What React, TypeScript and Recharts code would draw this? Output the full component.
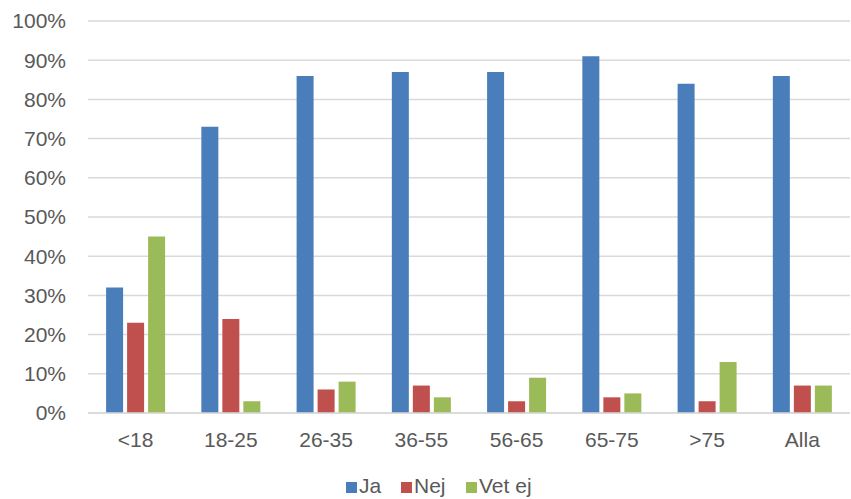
import React from 'react';
import { BarChart, Bar, XAxis, YAxis, CartesianGrid, Legend } from 'recharts';

const categories = ['<18', '18-25', '26-35', '36-55', '56-65', '65-75', '>75', 'Alla'];
const jaValues = [32, 73, 86, 87, 87, 91, 84, 86];
const nejValues = [23, 24, 6, 7, 3, 4, 3, 7];
const vetEjValues = [45, 3, 8, 4, 9, 5, 13, 7];
const yTicks = [0, 10, 20, 30, 40, 50, 60, 70, 80, 90, 100];

const seriesInfo = [
  { key: 'Ja', color: '#4a7ebb' },
  { key: 'Nej', color: '#c0504d' },
  { key: 'Vet ej', color: '#9bbb59' },
];

const data = categories.map((c, i) => ({
  name: c,
  Ja: jaValues[i],
  Nej: nejValues[i],
  'Vet ej': vetEjValues[i],
}));

const FONT = '"Liberation Sans", Arial, sans-serif';
const TEXT = '#595959';

const LegendContent = () => (
  <div
    style={{
      position: 'absolute',
      left: 0,
      top: 0,
      width: 851,
      height: 36,
      fontFamily: FONT,
      fontSize: 21,
      lineHeight: '21px',
      color: TEXT,
    }}
  >
    {seriesInfo.map((s, i) => {
      const lefts = [346, 401, 466];
      return (
        <div
          key={s.key}
          style={{ position: 'absolute', left: lefts[i], top: 12, display: 'flex', alignItems: 'center', whiteSpace: 'nowrap' }}
        >
          <div style={{ width: 11, height: 11, background: s.color, marginRight: 2, marginTop: 3 }} />
          <span>{s.key}</span>
        </div>
      );
    })}
  </div>
);

export default function App() {
  return (
    <div style={{ position: 'absolute', left: 0, top: 0, width: 851, height: 499, background: '#fff' }}>
      <BarChart
        width={851}
        height={499}
        data={data}
        margin={{ top: 21, right: 1, left: 0, bottom: 0 }}
        barCategoryGap="19%"
        barGap={4}
      >
        <CartesianGrid vertical={false} stroke="#d9d9d9" strokeWidth={1.5} />
        <XAxis
          dataKey="name"
          height={50}
          tickLine={false}
          tickSize={0}
          tickMargin={19}
          axisLine={{ stroke: '#d9d9d9', strokeWidth: 1.5 }}
          tick={{ fill: TEXT, fontSize: 21, fontFamily: FONT }}
          interval={0}
        />
        <YAxis
          width={88}
          domain={[0, 100]}
          ticks={yTicks}
          tickFormatter={(v: number) => `${v}%`}
          axisLine={false}
          tickLine={false}
          tickSize={0}
          tickMargin={22}
          tick={{ fill: TEXT, fontSize: 21, fontFamily: FONT }}
          interval={0}
        />
        <Legend
          verticalAlign="bottom"
          height={36}
          content={<LegendContent />}
          wrapperStyle={{ bottom: 0, left: 0, width: 851 }}
        />
        {seriesInfo.map((s) => (
          <Bar key={s.key} dataKey={s.key} fill={s.color} isAnimationActive={false} />
        ))}
      </BarChart>
    </div>
  );
}
